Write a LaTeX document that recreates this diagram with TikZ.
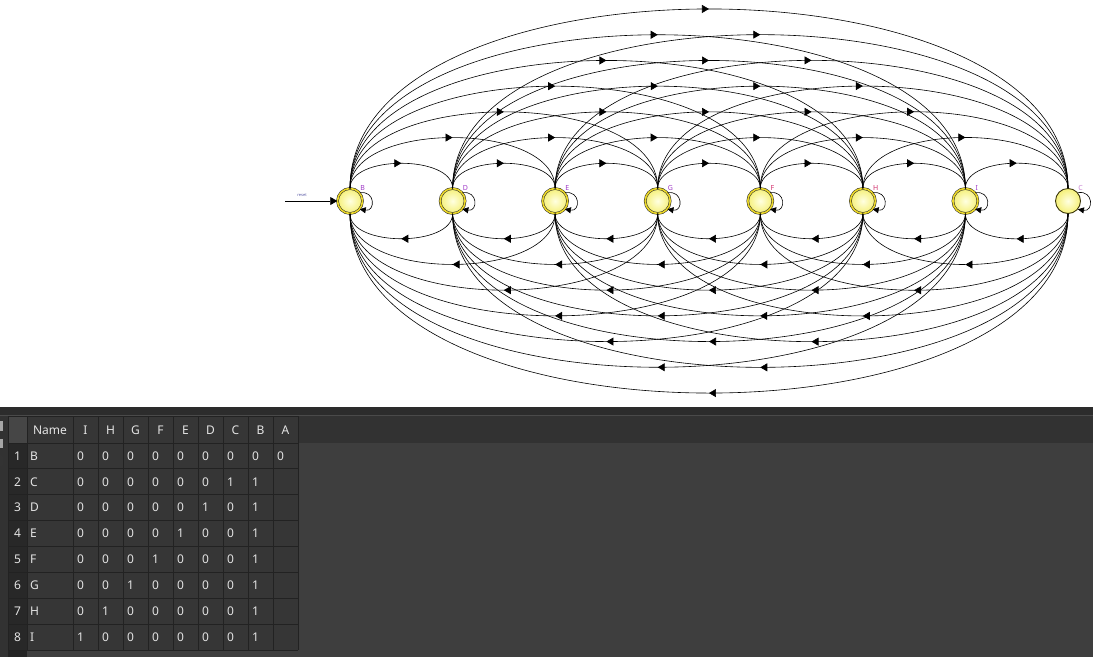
\documentclass[tikz,border=0pt]{standalone}
\usepackage{fontspec}
\setmainfont{Noto Sans}
\usetikzlibrary{arrows.meta,decorations.markings}
\definecolor{lblpurple}{RGB}{160,60,200}
\definecolor{lblpink}{RGB}{210,50,110}
\definecolor{lbllight}{RGB}{200,130,210}
\definecolor{ringyel}{RGB}{235,215,40}
\definecolor{fillin}{RGB}{255,255,225}
\definecolor{fillout}{RGB}{245,240,120}
\definecolor{stripc}{RGB}{44,44,44}
\definecolor{stripline}{RGB}{74,74,74}
\definecolor{headbg}{RGB}{50,50,50}
\definecolor{areabg}{RGB}{62,62,62}
\definecolor{cellbg}{RGB}{54,54,54}
\definecolor{gridc}{RGB}{34,34,34}
\definecolor{txtc}{RGB}{228,228,228}
\begin{document}
\begin{tikzpicture}[x=1pt,y=1pt,
  state/.style={circle, minimum size=25pt, inner sep=0pt, draw=black!85, line width=0.5pt,
    inner color=fillin, outer color=fillout},
  accept/.style={double=ringyel, double distance=1.6pt},
  plain/.style={line width=0.9pt, draw=black!75!ringyel},
  lbl/.style={font=\fontsize{7}{7}\selectfont\bfseries, inner sep=0pt},
  arc/.style={line width=0.6pt, postaction={decorate},
    decoration={markings, mark=at position 0.5 with {\arrow{Triangle[length=7pt,width=8pt]}}}},
  loopc/.style={line width=0.6pt, -{Triangle[length=6pt,width=6pt]}},
  cell/.style={font=\fontsize{12}{12}\selectfont, text=txtc, inner sep=0pt}
]
\useasboundingbox (0,0) rectangle (1093,-657);
\fill[white] (0,0) rectangle (1093,-657);

% ---------- states ----------
\node[state,accept,label={[lbl,text=lblpurple,label distance=1.5pt]45:B}] (n1) at (350,-201) {};
\node[state,accept,label={[lbl,text=lblpurple,label distance=1.5pt]45:D}] (n2) at (452.6,-201) {};
\node[state,accept,label={[lbl,text=lblpurple,label distance=1.5pt]45:E}] (n3) at (555.1,-201) {};
\node[state,accept,label={[lbl,text=lblpurple,label distance=1.5pt]45:G}] (n4) at (657.7,-201) {};
\node[state,accept,label={[lbl,text=lblpink,label distance=1.5pt]45:F}] (n5) at (760.3,-201) {};
\node[state,accept,label={[lbl,text=lblpink,label distance=1.5pt]45:H}] (n6) at (862.9,-201) {};
\node[state,accept,label={[lbl,text=lblpurple,label distance=1.5pt]45:I}] (n7) at (965.4,-201) {};
\node[state,plain,label={[lbl,text=lbllight,label distance=1.5pt]45:C}] (n8) at (1068,-201) {};

% reset arrow
\coordinate (rs) at (285,-201);
\node[font=\fontsize{4}{4}\selectfont, text=gray!70!blue, inner sep=0pt] (rtxt) at (302,-195) {reset};
\draw[line width=0.7pt,-{Triangle[length=7pt,width=8pt]}] (rs) -- (n1);

% self loops
\foreach \i in {1,...,8} {
  \draw[loopc] (n\i.40) .. controls +(10:16) and +(-10:16) .. (n\i.-40);
}

% arcs above (left to right) and below (right to left)
\foreach \i in {1,...,7} {
  \pgfmathtruncatemacro\ip{\i+1}
  \foreach \j in {\ip,...,8} {
    \pgfmathsetmacro\k{4/3*(25+25.7*(\j-\i-1))}
    \draw[arc] (n\i.north) .. controls +(0,\k) and +(0,\k) .. (n\j.north);
    \draw[arc] (n\j.south) .. controls +(0,-\k) and +(0,-\k) .. (n\i.south);
  }
}

% ---------- table panel ----------
\fill[stripc] (0,-407) rectangle (1093,-415);
\fill[stripline] (0,-414.5) rectangle (1093,-416);
\fill[headbg] (0,-416) rectangle (1093,-443);
\fill[areabg] (0,-443) rectangle (1093,-657);
\fill[headbg] (0,-416) rectangle (8,-657);
\fill[gray!70] (0,-421) rectangle (2.5,-431);
\fill[gray!70] (0,-439) rectangle (2.5,-448);
\fill[black!80, rounded corners=1.5pt] (-2,-455) rectangle (3,-466);
\fill[cellbg] (8,-416) rectangle (298,-650);
\fill[black!20!headbg] (8,-443) rectangle (27,-650);
\fill[black!30!headbg] (8,-650) rectangle (27,-657);
\fill[headbg!90!white] (8,-416) rectangle (27,-443);

% grid lines
\foreach \x in {8,27,73,98,123,148,173,198,223,248,273,298} {
  \draw[gridc, line width=1pt] (\x,-416) -- (\x,-650);
}
\foreach \r in {0,...,8} {
  \pgfmathsetmacro\yy{-(443+25.875*\r)}
  \draw[gridc, line width=1pt] (8,\yy) -- (298,\yy);
}
\draw[gridc, line width=1pt] (8,-416) -- (298,-416);

% header
\node[cell] (hName) at (50,-430) {Name};
\foreach \h [count=\c] in {I,H,G,F,E,D,C,B,A} {
  \node[cell] (h\c) at ({73+25*(\c-1)+12.5},-430) {\h};
}

% rows
\foreach \nm [count=\r] in {B,C,D,E,F,G,H,I} {
  \pgfmathsetmacro\yc{-(443+25.875*(\r-0.5))}
  \node[cell] (rn\r) at (17.5,\yc) {\r};
  \node[cell, anchor=west] (nm\r) at (30,\yc) {\nm};
}
\foreach \vals [count=\r] in {{0,0,0,0,0,0,0,0,0},{0,0,0,0,0,0,1,1},{0,0,0,0,0,1,0,1},{0,0,0,0,1,0,0,1},{0,0,0,1,0,0,0,1},{0,0,1,0,0,0,0,1},{0,1,0,0,0,0,0,1},{1,0,0,0,0,0,0,1}} {
  \pgfmathsetmacro\yc{-(443+25.875*(\r-0.5))}
  \foreach \v [count=\c] in \vals {
    \node[cell, anchor=west] (v\r-\c) at ({73+25*(\c-1)+4},\yc) {\v};
  }
}
\end{tikzpicture}
\end{document}
